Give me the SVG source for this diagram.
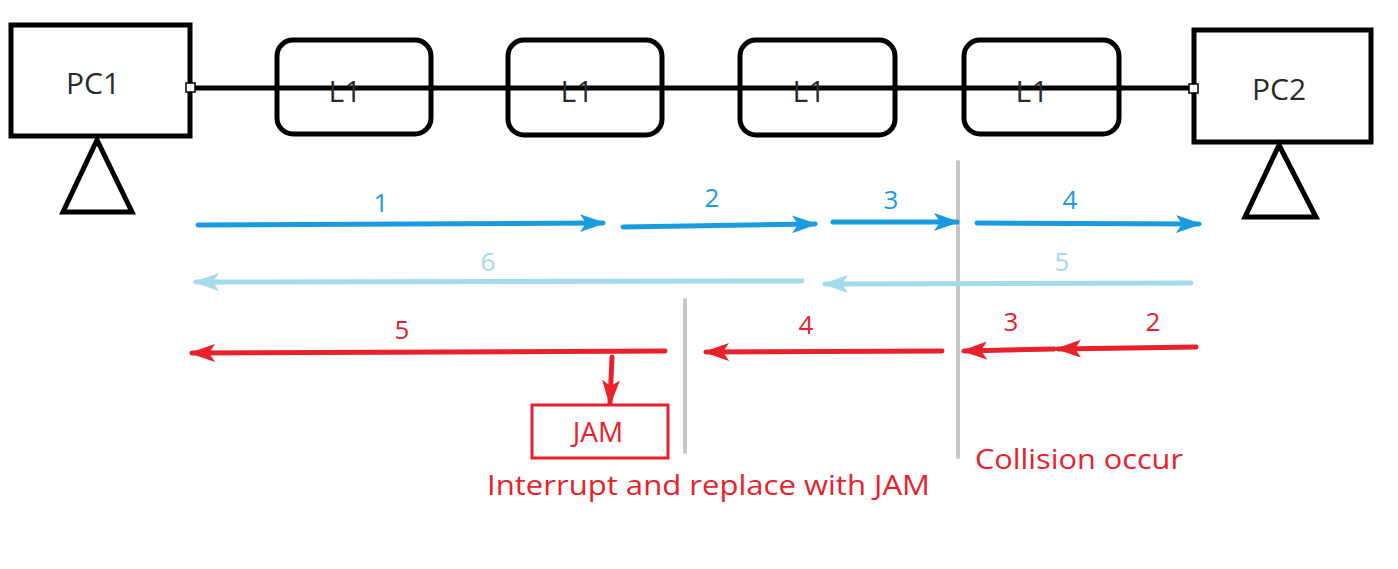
<svg xmlns="http://www.w3.org/2000/svg" width="1398" height="569" viewBox="0 0 1398 569">
<defs>
<style>
.box{fill:#fff;stroke:#000;stroke-width:5}
.tri{fill:none;stroke:#000;stroke-width:5;stroke-linejoin:miter}
.lbl{font-family:"Open Sans","Liberation Sans",sans-serif;font-size:30px;fill:#2a2a2a;text-anchor:middle;dominant-baseline:central}
.blue{stroke:#1a9be0;stroke-width:5;fill:none;stroke-linecap:round}
.lblue{stroke:#a3daec;stroke-width:5;fill:none;stroke-linecap:round}
.red{stroke:#e8212b;stroke-width:5;fill:none;stroke-linecap:round}
.gray{stroke:#c6c6c6;stroke-width:4;stroke-linecap:round}
.nb{font-family:"Open Sans","Liberation Sans",sans-serif;font-size:26px;fill:#1a9be0;text-anchor:middle}
.nlb{font-family:"Open Sans","Liberation Sans",sans-serif;font-size:26px;fill:#a3daec;text-anchor:middle}
.nr{font-family:"Open Sans","Liberation Sans",sans-serif;font-size:26px;fill:#e8212b;text-anchor:middle}
.rt{font-family:"Open Sans","Liberation Sans",sans-serif;font-size:27px;fill:#e8212b}
</style>
<marker id="ab" markerUnits="userSpaceOnUse" markerWidth="28" markerHeight="22" refX="23" refY="11" orient="auto"><path d="M0,2 L26,11 L0,20 L6,11 z" fill="#1a9be0"/></marker>
<marker id="alb" markerUnits="userSpaceOnUse" markerWidth="28" markerHeight="22" refX="23" refY="11" orient="auto"><path d="M0,2 L26,11 L0,20 L6,11 z" fill="#a3daec"/></marker>
<marker id="ar" markerUnits="userSpaceOnUse" markerWidth="28" markerHeight="22" refX="23" refY="11" orient="auto"><path d="M0,2 L26,11 L0,20 L6,11 z" fill="#e8212b"/></marker>
</defs>
<rect width="1398" height="569" fill="#fff"/>
<g id="PC1">
<rect class="box" x="11" y="25" width="179" height="111"/>
<text class="lbl" x="93" y="82">PC1</text>
<polygon class="tri" points="97,140 63,212 132,212"/>
</g>
<g id="PC2">
<rect class="box" x="1194" y="30" width="177" height="112"/>
<text class="lbl" x="1279" y="88">PC2</text>
<polygon class="tri" points="1279,145 1245,217 1316,217"/>
</g>
<g id="L1a"><rect class="box" x="277" y="40" width="154" height="94" rx="16"/></g>
<g id="L1b"><rect class="box" x="508" y="40" width="154" height="95" rx="16"/></g>
<g id="L1c"><rect class="box" x="740" y="40" width="155" height="95" rx="16"/></g>
<g id="L1d"><rect class="box" x="964" y="40" width="155" height="94" rx="16"/></g>
<g id="connectors">
<line x1="190" y1="88" x2="1193" y2="88" stroke="#000" stroke-width="5"/>
<rect x="186" y="83" width="9" height="9" fill="#fff" stroke="#000" stroke-width="1.5"/>
<rect x="1189" y="84" width="9" height="9" fill="#fff" stroke="#000" stroke-width="1.5"/>
<line class="gray" x1="958" y1="162" x2="958" y2="457"/>
<line class="gray" x1="685" y1="300" x2="685" y2="452"/>
<path class="blue" d="M198,225 L603,223" marker-end="url(#ab)"/>
<path class="blue" d="M623,227 L815,224" marker-end="url(#ab)"/>
<path class="blue" d="M833,222 L957,222" marker-end="url(#ab)"/>
<path class="blue" d="M977,223 L1199,224" marker-end="url(#ab)"/>
<path class="lblue" d="M802,281 L196,282" marker-end="url(#alb)"/>
<path class="lblue" d="M1191,283 L825,284" marker-end="url(#alb)"/>
<path class="red" d="M665,351 L192,353" marker-end="url(#ar)"/>
<path class="red" d="M942,351 L706,352" marker-end="url(#ar)"/>
<path class="red" d="M1054,349 L964,351" marker-end="url(#ar)"/>
<path class="red" d="M1196,347 L1058,349" marker-end="url(#ar)"/>
<path class="red" d="M612,357 L610,403" marker-end="url(#ar)"/>
</g>
<g id="labels">
<text class="lbl" x="345" y="90">L1</text>
<text class="lbl" x="577" y="90">L1</text>
<text class="lbl" x="809" y="90">L1</text>
<text class="lbl" x="1032" y="90">L1</text>
<text class="nb" x="381" y="212">1</text>
<text class="nb" x="712" y="207">2</text>
<text class="nb" x="891" y="209">3</text>
<text class="nb" x="1070" y="209">4</text>
<text class="nlb" x="488" y="271">6</text>
<text class="nlb" x="1062" y="271">5</text>
<text class="nr" x="402" y="339">5</text>
<text class="nr" x="806" y="334">4</text>
<text class="nr" x="1011" y="331">3</text>
<text class="nr" x="1153" y="331">2</text>
</g>
<g id="JAM">
<rect x="532" y="405" width="136" height="53" fill="#fff" stroke="#e8212b" stroke-width="3"/>
<text class="nr" x="598" y="442" style="font-size:28px">JAM</text>
</g>
<text class="rt" x="487" y="495" textLength="443" lengthAdjust="spacingAndGlyphs">Interrupt and replace with JAM</text>
<text class="rt" x="975" y="469" textLength="208" lengthAdjust="spacingAndGlyphs">Collision occur</text>
</svg>
